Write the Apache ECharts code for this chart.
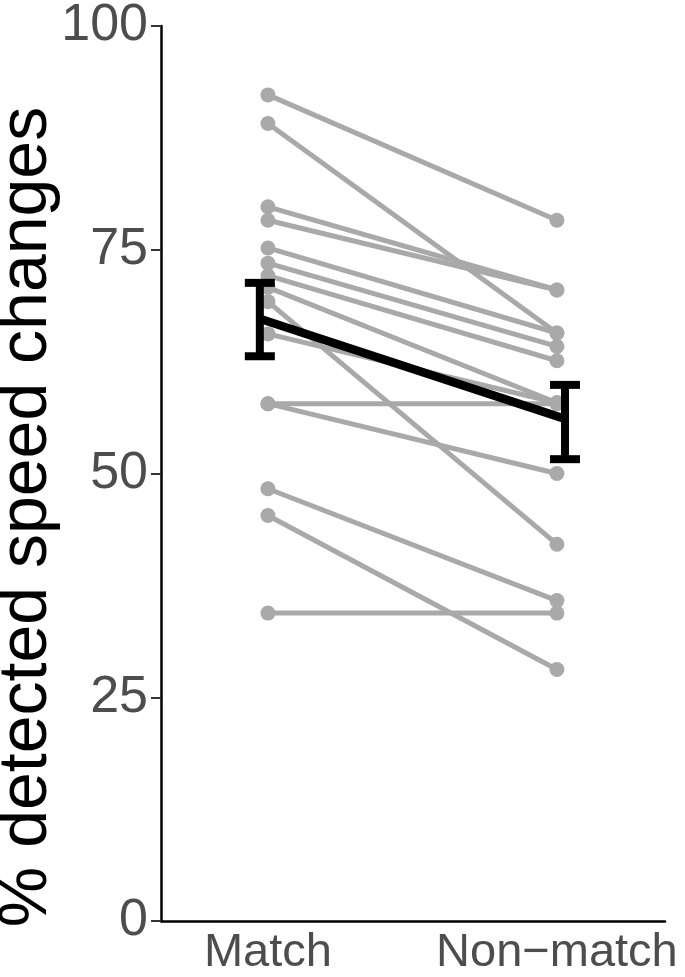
<!DOCTYPE html>
<html>
<head>
<meta charset="utf-8">
<script src="https://cdn.jsdelivr.net/npm/echarts@6/dist/echarts.min.js"></script>
<style>
  html, body { margin: 0; padding: 0; background: #fff; }
  #chart { width: 685px; height: 977px; }
</style>
</head>
<body>
<div id="chart"></div>
<script>
// conditions on the x axis
const conditions = ['Match', 'Non\u2212match'];
// per-participant % detected
const matchVals    = [92.3, 89.1, 79.8, 78.3, 75.2, 73.5, 72.1, 70.8, 69.2, 65.6, 57.8, 57.8, 48.3, 45.3, 34.4];
const nonMatchVals = [78.3, 65.7, 70.5, 70.5, 65.7, 64.2, 62.6, 57.9, 42.1, 57.9, 57.8, 50.0, 35.8, 28.1, 34.4];
// error bar ends (match, non-match)
const errLow  = [63.1, 51.6];
const errHigh = [71.3, 59.9];
const yTicks = [0, 25, 50, 75, 100];

const font = 'Liberation Sans, Arial, Helvetica, sans-serif';
const mean = a => a.reduce((s, v) => s + v, 0) / a.length;
const means = [mean(matchVals), mean(nonMatchVals)];
const nudge = 0.028; // summary marks sit slightly outside the points

let chart = echarts.init(document.getElementById('chart'));

let series = [];
matchVals.forEach((m, i) => {
  series.push({
    type: 'line',
    data: [[0, m], [1, nonMatchVals[i]]],
    symbol: 'circle',
    symbolSize: 15,
    silent: true,
    itemStyle: { color: '#a9a9a9' },
    lineStyle: { color: '#a9a9a9', width: 5 },
    z: 2
  });
});

// mean line
series.push({
  type: 'line',
  data: [[0 - nudge, means[0]], [1 + nudge, means[1]]],
  symbol: 'none',
  lineStyle: { color: '#000', width: 8.5 },
  z: 5
});

// error bars
series.push({
  type: 'custom',
  z: 6,
  data: [[0 - nudge, errLow[0], errHigh[0]], [1 + nudge, errLow[1], errHigh[1]]],
  renderItem: (params, api) => {
    let x = api.value(0);
    let lo = api.coord([x, api.value(1)]);
    let hi = api.coord([x, api.value(2)]);
    let half = 15;
    let st = { stroke: '#000', lineWidth: 8 };
    return {
      type: 'group',
      children: [
        { type: 'line', shape: { x1: lo[0], y1: lo[1], x2: hi[0], y2: hi[1] }, style: st },
        { type: 'line', shape: { x1: lo[0] - half, y1: lo[1], x2: lo[0] + half, y2: lo[1] }, style: st },
        { type: 'line', shape: { x1: hi[0] - half, y1: hi[1], x2: hi[0] + half, y2: hi[1] }, style: st }
      ]
    };
  }
});

let option = {
  animation: false,
  grid: { left: 161, right: 20, top: 18, bottom: 52, containLabel: false },
  // y axis title, placed by hand like the original
  graphic: [{
    type: 'text',
    x: 27,
    y: 517,
    rotation: Math.PI / 2,
    style: {
      text: '% detected speed changes',
      fill: '#000',
      fontSize: 68,
      fontFamily: font,
      align: 'center',
      verticalAlign: 'middle'
    }
  }],
  xAxis: {
    type: 'value',
    min: -0.37,
    max: 1.374,
    splitLine: { show: false },
    axisLine: { onZero: false, lineStyle: { color: '#000', width: 2.5 } },
    axisTick: { show: false },
    axisLabel: {
      customValues: [0, 1],
      formatter: v => conditions[Math.round(v)],
      color: '#4d4d4d',
      fontSize: 47,
      fontFamily: font,
      margin: 9
    }
  },
  yAxis: {
    type: 'value',
    min: 0,
    max: 100,
    interval: 25,
    splitLine: { show: false },
    axisLine: { show: true, onZero: false, lineStyle: { color: '#000', width: 2.5 } },
    axisTick: { show: true, length: 10, lineStyle: { color: '#333', width: 2 } },
    axisLabel: {
      color: '#4d4d4d',
      fontSize: 52,
      fontFamily: font,
      margin: 13,
      formatter: v => yTicks.includes(v) ? String(v) : ''
    }
  },
  series: series
};

option && chart.setOption(option);
</script>
</body>
</html>
